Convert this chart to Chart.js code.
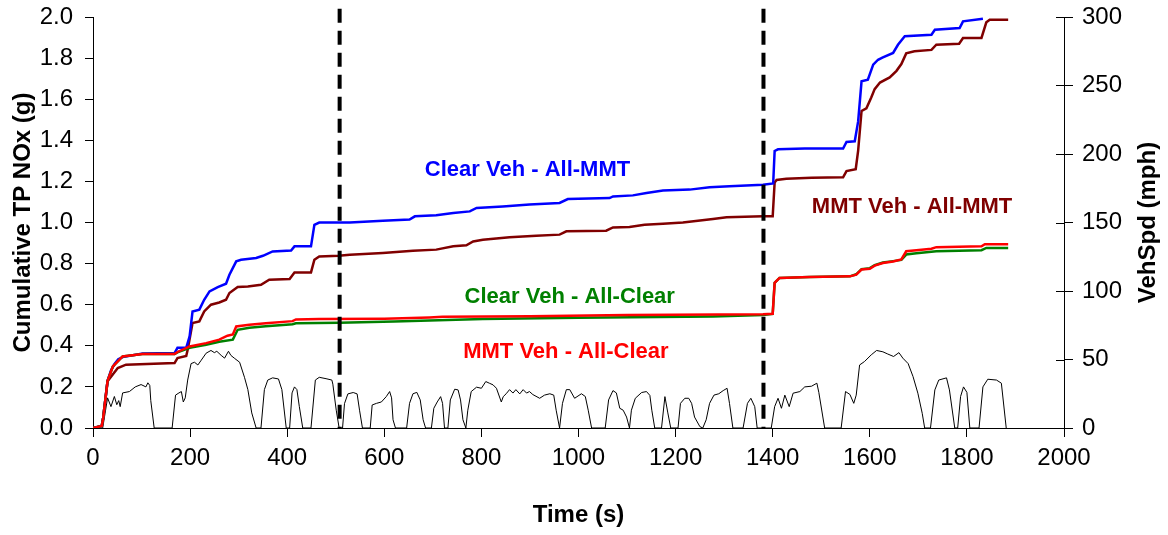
<!DOCTYPE html>
<html>
<head>
<meta charset="utf-8">
<script src="https://cdn.jsdelivr.net/npm/chart.js@4.4.1/dist/chart.umd.min.js"></script>
<style>
  html, body { margin: 0; padding: 0; background: #fff; }
  #chart { display: block; }
</style>
</head>
<body>
<canvas id="chart" width="1168" height="535"></canvas>
<script>
// time (s), cumulative NOx (g)
const clearVehAllMmt = [
  [0, 0], [18, 0.01], [21, 0.05], [30, 0.23], [37, 0.28], [44, 0.31], [52, 0.335], [61, 0.345],
  [102, 0.362], [168, 0.365], [174, 0.39], [192, 0.39], [199, 0.446], [205, 0.567], [219, 0.576],
  [229, 0.624], [240, 0.665], [257, 0.686], [274, 0.702], [281, 0.746], [295, 0.811], [305, 0.819],
  [336, 0.827], [350, 0.838], [370, 0.859], [408, 0.864], [415, 0.884], [449, 0.884], [456, 0.989],
  [466, 1.0], [529, 1.0], [597, 1.009], [652, 1.014], [663, 1.03], [707, 1.035], [742, 1.046],
  [776, 1.054], [790, 1.071], [844, 1.078], [899, 1.087], [961, 1.095], [978, 1.114], [1064, 1.119],
  [1071, 1.127], [1112, 1.132], [1140, 1.144], [1174, 1.156], [1229, 1.16], [1270, 1.171],
  [1311, 1.176], [1380, 1.184], [1401, 1.19], [1404, 1.348], [1411, 1.356], [1466, 1.36],
  [1545, 1.36], [1552, 1.392], [1569, 1.395], [1576, 1.492], [1583, 1.687], [1596, 1.695],
  [1607, 1.768], [1617, 1.792], [1627, 1.803], [1648, 1.825], [1658, 1.865], [1672, 1.906],
  [1727, 1.914], [1734, 1.938], [1785, 1.946], [1792, 1.979], [1833, 1.992]
];
const mmtVehAllMmt = [
  [0, 0], [18, 0.01], [21, 0.05], [30, 0.227], [51, 0.292], [68, 0.308], [168, 0.316], [174, 0.34],
  [192, 0.35], [195, 0.381], [205, 0.511], [219, 0.519], [229, 0.567], [243, 0.6], [260, 0.611],
  [274, 0.624], [281, 0.657], [298, 0.686], [319, 0.689], [346, 0.697], [363, 0.722], [405, 0.725],
  [415, 0.757], [449, 0.757], [456, 0.819], [466, 0.835], [506, 0.838], [529, 0.843], [597, 0.852],
  [659, 0.863], [707, 0.868], [742, 0.884], [769, 0.889], [783, 0.908], [803, 0.916], [858, 0.928],
  [913, 0.936], [961, 0.941], [975, 0.957], [1057, 0.96], [1071, 0.976], [1105, 0.978],
  [1136, 0.989], [1174, 0.994], [1215, 1.0], [1277, 1.017], [1305, 1.025], [1380, 1.03],
  [1400, 1.03], [1404, 1.195], [1408, 1.207], [1428, 1.213], [1480, 1.218], [1545, 1.22],
  [1552, 1.25], [1571, 1.259], [1576, 1.35], [1583, 1.543], [1593, 1.556], [1603, 1.608],
  [1610, 1.649], [1621, 1.681], [1641, 1.706], [1655, 1.738], [1665, 1.771], [1675, 1.823],
  [1692, 1.833], [1727, 1.84], [1737, 1.865], [1784, 1.87], [1792, 1.898], [1830, 1.898],
  [1840, 1.974], [1847, 1.987], [1885, 1.987]
];
const clearVehAllClear = [
  [0, 0], [18, 0.01], [21, 0.05], [30, 0.23], [41, 0.3], [61, 0.348], [102, 0.36], [168, 0.36],
  [174, 0.368], [199, 0.39], [233, 0.405], [260, 0.42], [288, 0.43], [298, 0.478], [322, 0.488],
  [356, 0.495], [411, 0.505], [418, 0.51], [507, 0.512], [620, 0.518], [803, 0.53], [1000, 0.537],
  [1277, 0.543], [1380, 0.55], [1400, 0.555], [1404, 0.706], [1414, 0.73], [1476, 0.735],
  [1559, 0.738], [1572, 0.748], [1583, 0.773], [1600, 0.778], [1610, 0.792], [1627, 0.805],
  [1648, 0.812], [1665, 0.818], [1675, 0.844], [1696, 0.85], [1737, 0.86], [1830, 0.865],
  [1840, 0.876], [1885, 0.876]
];
const mmtVehAllClear = [
  [0, 0], [18, 0.01], [21, 0.05], [30, 0.23], [41, 0.3], [61, 0.348], [102, 0.36], [168, 0.36],
  [174, 0.37], [199, 0.397], [233, 0.413], [260, 0.43], [277, 0.449], [288, 0.455], [295, 0.494],
  [322, 0.502], [356, 0.51], [411, 0.52], [418, 0.528], [466, 0.53], [600, 0.532], [693, 0.538],
  [720, 0.541], [900, 0.544], [1100, 0.55], [1380, 0.553], [1400, 0.556], [1404, 0.706],
  [1414, 0.73], [1476, 0.735], [1559, 0.738], [1572, 0.746], [1583, 0.771], [1600, 0.775],
  [1610, 0.79], [1627, 0.803], [1648, 0.81], [1665, 0.82], [1675, 0.86], [1696, 0.865],
  [1727, 0.872], [1737, 0.88], [1830, 0.884], [1837, 0.894], [1885, 0.894]
];
// time (s), vehicle speed (mph)
const vehSpeed = [
  [0, 0], [20, 0], [30, 22], [37, 15.6], [44, 23], [49, 17], [53, 20], [56, 15.6], [61, 25.6],
  [75, 26.6], [87, 30], [99, 31.7], [109, 30], [113, 33], [117, 31], [119, 20], [126, 0], [163, 0],
  [170, 24], [177, 25.6], [182, 26.6], [186, 19], [190, 22], [195, 35], [202, 47], [209, 48],
  [216, 46], [222, 49], [233, 54.6], [243, 56.6], [250, 55], [255, 56], [264, 53], [271, 51],
  [279, 56], [284, 53], [291, 51], [302, 48], [312, 37], [319, 28], [327, 11], [336, 0], [346, 0],
  [353, 28], [360, 35], [370, 36.6], [382, 35.8], [389, 28], [398, 0], [405, 0], [410, 25.6],
  [415, 30], [420, 28], [425, 15.6], [432, 0], [449, 0], [458, 35], [466, 37], [480, 36], [492, 35],
  [494, 32], [501, 13], [507, 0], [514, 0], [518, 17.8], [525, 24.9], [536, 25.9], [544, 24.9],
  [549, 13], [555, 0], [571, 0], [575, 16.8], [584, 18], [594, 19], [604, 22.9], [611, 26.6],
  [615, 22], [618, 6], [623, 0], [646, 0], [652, 18], [659, 25], [667, 26], [674, 20.5], [680, 6],
  [685, 0], [697, 0], [702, 14.4], [709, 19], [716, 22.9], [720, 18], [724, 0], [731, 0],
  [736, 20.5], [745, 28.3], [752, 27.8], [757, 20.5], [762, 6], [768, 0], [772, 13], [779, 26.6],
  [790, 29.8], [800, 29], [809, 33.9], [817, 32.6], [824, 31.5], [831, 29], [841, 19], [845, 22.9],
  [851, 25], [858, 28], [865, 25.5], [871, 28], [879, 24.9], [886, 28], [893, 25.5], [899, 26.6],
  [906, 24.4], [920, 21.7], [930, 24], [941, 25], [949, 24], [954, 13], [961, 0], [967, 18],
  [975, 28], [982, 28], [992, 21.7], [1006, 25], [1014, 23], [1020, 13], [1027, 0], [1055, 0],
  [1062, 20.5], [1071, 27.3], [1078, 25.6], [1085, 14.4], [1092, 13], [1099, 8], [1105, 0],
  [1109, 13], [1117, 21.7], [1130, 25.9], [1140, 26.6], [1147, 23.8], [1151, 13], [1157, 0],
  [1171, 0], [1178, 22.9], [1184, 11], [1190, 0], [1205, 0], [1210, 18], [1219, 21.7],
  [1227, 21.7], [1233, 18], [1239, 8], [1250, 1], [1256, 0], [1263, 6], [1270, 18], [1279, 24],
  [1289, 25], [1298, 27.3], [1306, 29], [1311, 18], [1318, 0], [1339, 0], [1348, 18], [1355, 21.7],
  [1363, 15.6], [1368, 0], [1397, 0], [1404, 15.6], [1411, 21.7], [1418, 14.4], [1425, 24],
  [1434, 15.6], [1442, 25.4], [1456, 26.6], [1466, 30], [1480, 30.5], [1491, 32.7], [1495, 26],
  [1507, 0], [1541, 0], [1550, 26.6], [1559, 24.5], [1567, 18], [1572, 24], [1579, 46],
  [1589, 48.5], [1603, 53.4], [1614, 56.6], [1627, 55.6], [1637, 54], [1649, 52.2], [1660, 55],
  [1668, 51], [1679, 47], [1689, 37.6], [1699, 25.4], [1708, 10.7], [1713, 0], [1725, 0],
  [1734, 27.8], [1742, 35], [1758, 36.6], [1764, 27.8], [1775, 0], [1781, 0], [1787, 23],
  [1793, 30], [1800, 26], [1806, 0], [1825, 0], [1833, 30], [1843, 35.6], [1861, 35],
  [1871, 32.7], [1881, 0]
];
// phase boundaries (s)
const phaseBreaks = [508, 1381];
// label text, colour, anchor (time, NOx)
const seriesLabels = [
  ["Clear Veh - All-MMT", "#0000ff", 895, 1.257],
  ["MMT Veh - All-MMT", "#800000", 1687, 1.078],
  ["Clear Veh - All-Clear", "#008000", 982, 0.64],
  ["MMT Veh - All-Clear", "#ff0000", 974, 0.371]
];
const rightTitle = "VehSpd (mph)";

const FONT = "'Liberation Sans', Arial, sans-serif";

function toXY(arr) {
  return arr.map(function (p) { return { x: p[0], y: p[1] }; });
}

function line(data, color, order) {
  return {
    data: toXY(data),
    borderColor: color,
    borderWidth: 2.5,
    pointRadius: 0,
    yAxisID: "y",
    order: order,
  };
}

var datasets = [
  line(mmtVehAllClear, "#ff0000", 1),
  line(clearVehAllClear, "#008000", 2),
  line(clearVehAllMmt, "#0000ff", 3),
  line(mmtVehAllMmt, "#800000", 4),
  {
    data: toXY(vehSpeed),
    borderColor: "#000",
    borderWidth: 1,
    pointRadius: 0,
    yAxisID: "y2",
    order: 6,
  },
];

phaseBreaks.forEach(function (t) {
  datasets.push({
    data: [{ x: t, y: 2.04 }, { x: t, y: 0 }],
    borderColor: "#000",
    borderWidth: 4,
    borderDash: [14, 8],
    pointRadius: 0,
    yAxisID: "y",
    clip: false,
    order: 0,
  });
});

// series names next to the curves, right-axis title (reads upward), inner half of right ticks
var extras = {
  id: "extras",
  afterDatasetsDraw: function (chart) {
    var ctx = chart.ctx;
    var xs = chart.scales.x, ys = chart.scales.y, y2 = chart.scales.y2;
    ctx.save();
    ctx.font = "bold 22px " + FONT;
    ctx.textAlign = "center";
    ctx.textBaseline = "middle";
    seriesLabels.forEach(function (l) {
      ctx.fillStyle = l[1];
      ctx.fillText(l[0], xs.getPixelForValue(l[2]), ys.getPixelForValue(l[3]));
    });

    ctx.save();
    ctx.font = "bold 24px " + FONT;
    ctx.fillStyle = "#000";
    ctx.translate(y2.right - 20, (y2.top + y2.bottom) / 2);
    ctx.rotate(-Math.PI / 2);
    ctx.fillText(rightTitle, 0, 0);
    ctx.restore();

    ctx.strokeStyle = "#000";
    ctx.lineWidth = 1;
    y2.ticks.forEach(function (tk) {
      var py = Math.round(y2.getPixelForValue(tk.value)) + 0.5;
      ctx.beginPath();
      ctx.moveTo(y2.left - 8, py);
      ctx.lineTo(y2.left, py);
      ctx.stroke();
    });
    ctx.restore();
  },
};

var tickFont = { family: FONT, size: 24 };
var titleFont = { family: FONT, size: 24, weight: "bold" };

function fixVertical(width) {
  return function (s) {
    s.width = width;
    s.paddingTop = 0;
    s.paddingBottom = 0;
  };
}

new Chart(document.getElementById("chart").getContext("2d"), {
  type: "line",
  data: { datasets: datasets },
  plugins: [extras],
  options: {
    responsive: false,
    animation: false,
    layout: { padding: { top: 17, left: 0, right: 0, bottom: 0 } },
    plugins: { legend: { display: false }, tooltip: { enabled: false } },
    elements: { line: { tension: 0 } },
    scales: {
      x: {
        type: "linear",
        min: 0,
        max: 2000,
        ticks: {
          stepSize: 200,
          font: tickFont,
          color: "#000",
          padding: 7,
          maxRotation: 0,
          callback: function (v) { return String(v); },
        },
        grid: { drawOnChartArea: false, tickLength: 9, color: "#000" },
        border: { color: "#000" },
        title: { display: true, text: "Time (s)", font: titleFont, color: "#000", padding: { top: 0, bottom: 5 } },
        afterFit: function (s) { s.height = 107; },
      },
      y: {
        position: "left",
        min: 0,
        max: 2,
        ticks: {
          stepSize: 0.2,
          font: tickFont,
          color: "#000",
          padding: 12,
          callback: function (v) { return v.toFixed(1); },
        },
        grid: { drawOnChartArea: false, tickLength: 8, color: "#000" },
        border: { color: "#000" },
        title: { display: true, text: "Cumulative TP NOx (g)", font: titleFont, color: "#000", padding: { top: 9, bottom: 0 } },
        afterFit: fixVertical(93),
      },
      y2: {
        position: "right",
        min: 0,
        max: 300,
        ticks: { stepSize: 50, font: tickFont, color: "#000", padding: 9 },
        grid: { drawOnChartArea: false, tickLength: 9, color: "#000" },
        border: { color: "#000" },
        afterFit: fixVertical(104),
      },
    },
  },
});
</script>
</body>
</html>
